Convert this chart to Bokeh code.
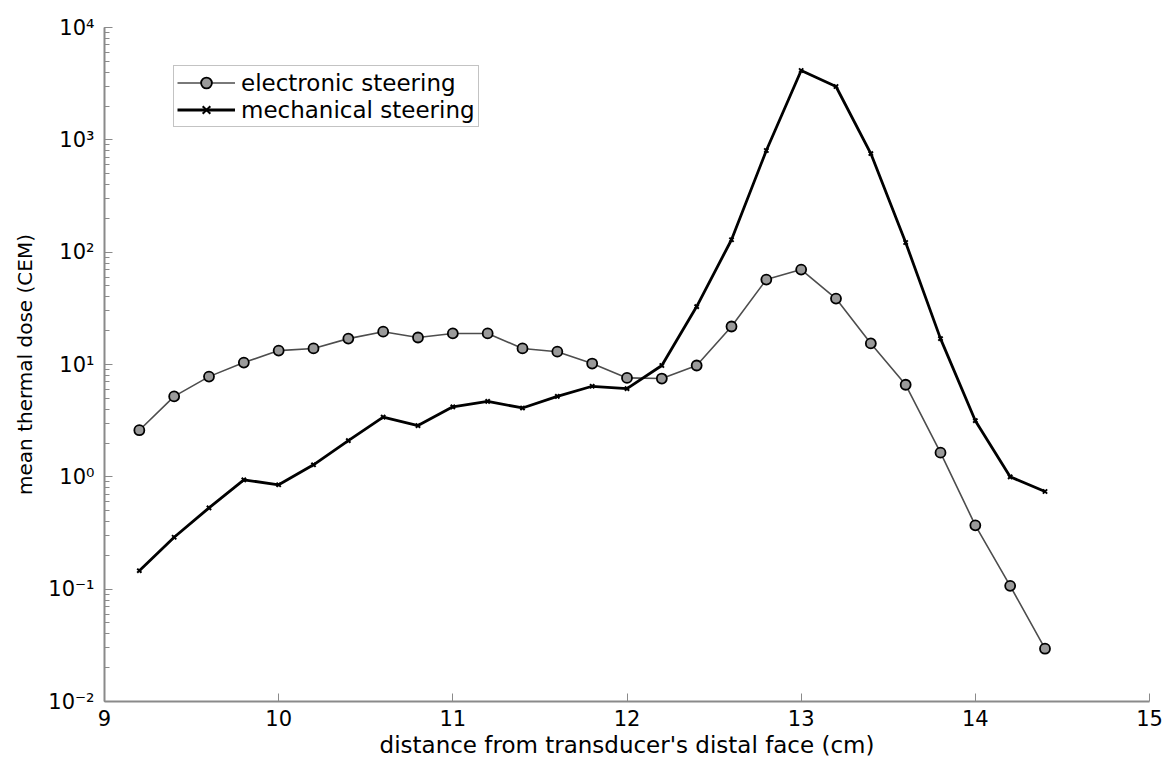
from bokeh.plotting import figure
from bokeh.models import FixedTicker, LogTicker, Legend, LegendItem, Range1d
from bokeh.embed import file_html
from bokeh.resources import INLINE

x = [9.2, 9.4, 9.6, 9.8, 10.0, 10.2, 10.4, 10.6, 10.8, 11.0, 11.2, 11.4, 11.6,
     11.8, 12.0, 12.2, 12.4, 12.6, 12.8, 13.0, 13.2, 13.4, 13.6, 13.8, 14.0, 14.2, 14.4]
electronic = [2.6, 5.2, 7.8, 10.4, 13.3, 13.9, 17.0, 19.6, 17.4, 18.9, 18.9, 13.9, 13.0,
              10.2, 7.6, 7.5, 9.8, 21.8, 57.0, 70.0, 38.6, 15.4, 6.6, 1.64, 0.37, 0.107, 0.0295]
mechanical = [0.146, 0.29, 0.53, 0.94, 0.85, 1.28, 2.1, 3.4, 2.86, 4.2, 4.7, 4.1, 5.2,
              6.4, 6.1, 9.8, 32.8, 129.0, 803.0, 4140.0, 2985.0, 755.0, 122.0, 17.0, 3.16, 1.0, 0.74]

x_ticks = [9, 10, 11, 12, 13, 14, 15]
y_ticks = [0.01, 0.1, 1, 10, 100, 1000, 10000]
y_tick_labels = ["10\u207b\u00b2", "10\u207b\u00b9", "10\u2070", "10\u00b9", "10\u00b2", "10\u00b3", "10\u2074"]

FONT = "DejaVu Sans"
AXIS_GRAY = "#8a8a8a"

p = figure(width=1164, height=760, y_axis_type="log",
           x_range=Range1d(9, 15), y_range=Range1d(0.01, 10000),
           output_backend="svg", toolbar_location=None,
           min_border_left=104, min_border_right=15, min_border_top=27, min_border_bottom=55)
p.outline_line_color = None
p.grid.visible = False
p.background_fill_color = "white"
p.border_fill_color = "white"

# axes
p.xaxis.ticker = FixedTicker(ticks=x_ticks)
p.xaxis.axis_label = "distance from transducer's distal face (cm)"
p.yaxis.axis_label = "mean thermal dose (CEM)"
p.yaxis.ticker = LogTicker(num_minor_ticks=10)
p.yaxis.major_label_overrides = {v: l for v, l in zip(y_ticks, y_tick_labels)}
for ax in (p.xaxis[0], p.yaxis[0]):
    ax.axis_line_color = AXIS_GRAY
    ax.axis_line_width = 2
    ax.major_tick_line_color = AXIS_GRAY
    ax.minor_tick_line_color = AXIS_GRAY
    ax.major_tick_in = 8
    ax.major_tick_out = 0
    ax.minor_tick_in = 5
    ax.minor_tick_out = 0
    ax.major_label_text_font = FONT
    ax.major_label_text_color = "black"
    ax.axis_label_text_font = FONT
    ax.axis_label_text_font_style = "normal"
    ax.axis_label_text_color = "black"
p.xaxis.minor_tick_line_color = None
p.xaxis.major_label_text_font_size = "21px"
p.xaxis.axis_label_text_font_size = "23px"
p.xaxis.major_label_standoff = 8
p.xaxis.axis_label_standoff = 3
p.yaxis.major_label_text_font_size = "21px"
p.yaxis.axis_label_text_font_size = "20px"
p.yaxis.major_label_standoff = 10
p.yaxis.axis_label_standoff = 8

# electronic steering
l1 = p.line(x, electronic, line_color="#4d4d4d", line_width=1.6)
m1 = p.scatter(x, electronic, marker="circle", size=10, fill_color="#9a9a9a",
               line_color="black", line_width=1.8)
# mechanical steering
l2 = p.line(x, mechanical, line_color="black", line_width=2.8)
m2 = p.scatter(x, mechanical, marker="x", size=6, line_color="black", line_width=2)

legend = Legend(items=[LegendItem(label="electronic steering", renderers=[l1, m1]),
                       LegendItem(label="mechanical steering", renderers=[l2, m2])],
                location=(69, 574))
legend.label_text_font = FONT
legend.label_text_font_size = "23px"
legend.label_text_color = "black"
legend.border_line_color = "#888888"
legend.border_line_width = 1.5
legend.padding = 3
legend.spacing = 0
legend.glyph_width = 58
legend.glyph_height = 27
legend.label_height = 27
legend.label_standoff = 6
legend.margin = 0
p.add_layout(legend, "center")

open("out.html", "w").write(file_html(p, INLINE))
